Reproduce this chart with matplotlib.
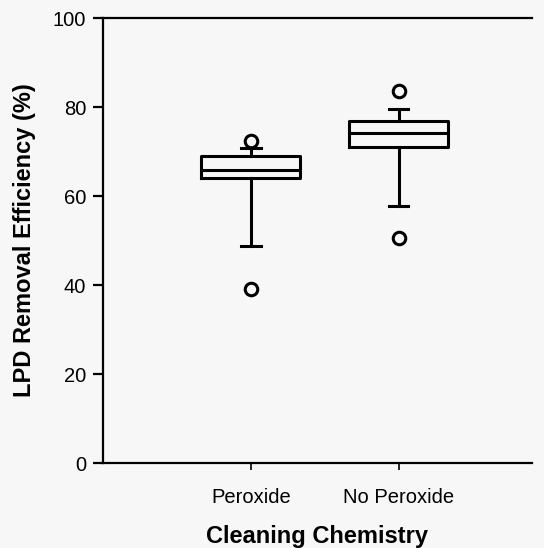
import matplotlib
matplotlib.use("Agg")
import matplotlib.pyplot as plt

plt.rcParams['font.family'] = ['Liberation Sans', 'DejaVu Sans']

# values
groups = ["Peroxide", "No Peroxide"]
q1 = [64.0, 71.1]
med = [65.8, 74.1]
q3 = [69.1, 76.9]
whislo = [48.8, 57.8]
whishi = [70.9, 79.6]
fliers = [[39.1, 72.4], [50.5, 83.7]]

stats = []
for i in range(len(groups)):
    stats.append(dict(label=groups[i], q1=q1[i], med=med[i], q3=q3[i],
                      whislo=whislo[i], whishi=whishi[i], fliers=fliers[i]))

bg = '#f7f7f7'
fig = plt.figure(figsize=(5.44, 5.48), dpi=100, facecolor=bg)
ax = fig.add_axes([0.1893, 0.1551, 0.7886, 0.8120], facecolor=bg)

lw = 2.2
ax.bxp(stats, positions=[1, 2], widths=0.67, capwidths=0.13,
       boxprops=dict(color='black', linewidth=lw),
       medianprops=dict(color='black', linewidth=lw),
       whiskerprops=dict(color='black', linewidth=lw),
       capprops=dict(color='black', linewidth=lw),
       flierprops=dict(marker='o', markersize=9, markerfacecolor='none',
                       markeredgecolor='black', markeredgewidth=2.2))

ax.set_xlim(0, 2.9)
ax.set_ylim(0, 100)
ax.set_yticks([0, 20, 40, 60, 80, 100])
ax.set_xticks([1, 2])
ax.set_xticklabels(groups)

ax.spines['right'].set_visible(False)
for s in ['left', 'bottom', 'top']:
    ax.spines[s].set_linewidth(1.6)
ax.tick_params(axis='y', direction='out', length=7, width=1.6, labelsize=14.5, pad=5)
ax.tick_params(axis='x', direction='out', length=5, width=1.2, labelsize=14.5, pad=13)

ax.set_xlabel("Cleaning Chemistry", fontsize=17, fontweight='bold', labelpad=13)
ax.set_ylabel("LPD Removal Efficiency (%)", fontsize=17, fontweight='bold', labelpad=12)

fig.savefig("out.png", dpi=100, facecolor=bg)
